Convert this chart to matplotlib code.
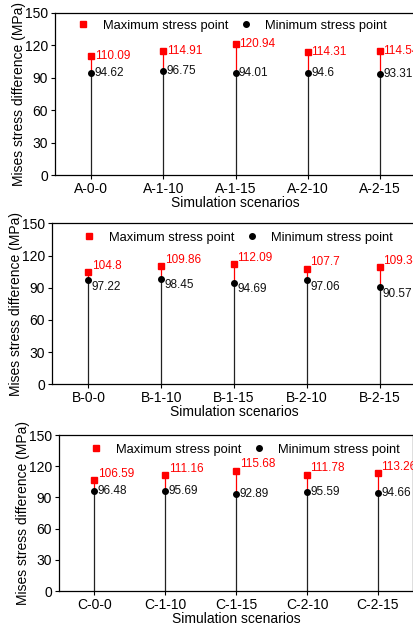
import matplotlib
matplotlib.use("Agg")
import matplotlib.pyplot as plt
from matplotlib.lines import Line2D

plt.rcParams['font.family'] = ['Liberation Sans', 'DejaVu Sans']

cats_a = ["A-0-0", "A-1-10", "A-1-15", "A-2-10", "A-2-15"]
max_a = [110.09, 114.91, 120.94, 114.31, 114.54]
min_a = [94.62, 96.75, 94.01, 94.6, 93.31]

cats_b = ["B-0-0", "B-1-10", "B-1-15", "B-2-10", "B-2-15"]
max_b = [104.8, 109.86, 112.09, 107.7, 109.34]
min_b = [97.22, 98.45, 94.69, 97.06, 90.57]

cats_c = ["C-0-0", "C-1-10", "C-1-15", "C-2-10", "C-2-15"]
max_c = [106.59, 111.16, 115.68, 111.78, 113.26]
min_c = [96.48, 95.69, 92.89, 95.59, 94.66]

yticks = [0, 30, 60, 90, 120, 150]
max_labels = {"A": ["110.09", "114.91", "120.94", "114.31", "114.54"],
              "B": ["104.8", "109.86", "112.09", "107.7", "109.34"],
              "C": ["106.59", "111.16", "115.68", "111.78", "113.26"]}
min_labels = {"A": ["94.62", "96.75", "94.01", "94.6", "93.31"],
              "B": ["97.22", "98.45", "94.69", "97.06", "90.57"],
              "C": ["96.48", "95.69", "92.89", "95.59", "94.66"]}

fig = plt.figure(figsize=(4.14, 6.28), dpi=100)

panels = [
    ("A", cats_a, max_a, min_a, [0.1329, 0.7213, 0.872, 0.2580], (0.060, 0.92), (0, 0)),
    ("B", cats_b, max_b, min_b, [0.1256, 0.3881, 0.879, 0.2563], (0.0845, 0.91), (4.5, -4.8)),
    ("C", cats_c, max_c, min_c, [0.1425, 0.0589, 0.856, 0.2484], (0.087, 0.904), (4.7, 0)),
]

RED = "#ff0000"
for key, cats, mx, mn, pos, legpos, offs in panels:
    ax = fig.add_axes(pos)
    x = list(range(1, len(cats) + 1))
    ax.vlines(x, 0, mn, colors="#222222", lw=0.9, zorder=2)
    ax.vlines(x, mn, mx, colors=RED, lw=0.9, zorder=2)
    ax.plot(x, mx, ls="none", marker="s", ms=4, color=RED, zorder=3)
    ax.plot(x, mn, ls="none", marker="o", ms=4, color="black", zorder=3)
    for xi, v, lab in zip(x, mx, max_labels[key]):
        ax.annotate(lab, (xi, v), xytext=(2.5, offs[0]), textcoords="offset points",
                    ha="left", va="center", color=RED, fontsize=8.5)
    for xi, v, lab in zip(x, mn, min_labels[key]):
        ax.annotate(lab, (xi, v), xytext=(2.5, offs[1]), textcoords="offset points",
                    ha="left", va="center", color="#111111", fontsize=8.5)
    ax.set_xlim(0.5, 5.5)
    ax.set_ylim(0, 150)
    ax.set_yticks(yticks)
    ax.set_xticks(x)
    ax.set_xticklabels(cats)
    ax.tick_params(axis="both", direction="out", length=3, width=0.8, labelsize=10, pad=2)
    for s in ax.spines.values():
        s.set_linewidth(0.9)
    ax.set_xlabel("Simulation scenarios", fontsize=10, labelpad=0)
    ax.set_ylabel("Mises stress difference (MPa)", fontsize=10, labelpad=-1)
    handles = [Line2D([], [], ls="none", marker="s", ms=4, color=RED),
               Line2D([], [], ls="none", marker="o", ms=4, color="black")]
    ax.legend(handles, ["Maximum stress point", "Minimum stress point"], ncol=2,
              loc="center left", bbox_to_anchor=legpos, frameon=False, fontsize=9.3,
              borderpad=0, borderaxespad=0, handlelength=1.0, handletextpad=1.0,
              columnspacing=0.9)

fig.savefig("out.png", dpi=100)
